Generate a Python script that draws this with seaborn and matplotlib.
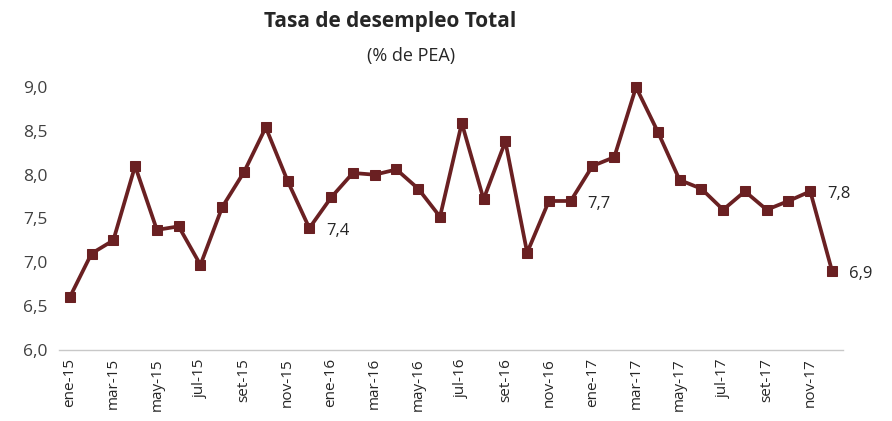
import seaborn as sns
import matplotlib.pyplot as plt
import numpy as np
import pandas as pd

# monthly unemployment rate, ene-15 .. dic-17
months = ["ene", "feb", "mar", "abr", "may", "jun",
          "jul", "ago", "set", "oct", "nov", "dic"]
years = ["15", "16", "17"]
rate_2015 = [6.6, 7.1, 7.25, 8.1, 7.37, 7.41, 6.97, 7.63, 8.03, 8.54, 7.93, 7.39]
rate_2016 = [7.74, 8.02, 8.0, 8.06, 7.84, 7.52, 8.59, 7.72, 8.38, 7.11, 7.7, 7.7]
rate_2017 = [8.1, 8.2, 9.0, 8.49, 7.94, 7.84, 7.6, 7.81, 7.6, 7.7, 7.81, 6.9]
labelled = {"dic-15": "7,4", "dic-16": "7,7", "nov-17": "7,8", "dic-17": "6,9"}

periods = [f"{m}-{y}" for y in years for m in months]
df = pd.DataFrame({"periodo": periods,
                   "tasa": rate_2015 + rate_2016 + rate_2017})
df["pos"] = np.arange(len(df))

sns.set_style("white")
plt.rcParams["font.family"] = ["Open Sans", "DejaVu Sans"]

fig = plt.figure(figsize=(8.92, 4.21), dpi=100)
ax = fig.add_axes([0.066, 0.169, 0.879, 0.624])

color = "#6a2022"
sns.lineplot(data=df, x="pos", y="tasa", ax=ax, color=color, linewidth=2.7,
             marker="s", markersize=7, markeredgecolor=color,
             markerfacecolor=color, clip_on=False)

for per, txt in labelled.items():
    row = df[df["periodo"] == per].iloc[0]
    ax.annotate(txt, (row["pos"], row["tasa"]), xytext=(12, -2),
                textcoords="offset points", ha="left", va="center",
                fontsize=12, color="#262626")

ax.set_xlim(-0.5, len(df) - 0.5)
ax.set_ylim(6, 9)
ax.set_yticks(np.arange(6, 9.01, 0.5))
ax.set_yticklabels([f"{v:.1f}".replace(".", ",") for v in np.arange(6, 9.01, 0.5)],
                   fontsize=12.5, color="#404040")
ax.set_xticks(df["pos"][::2])
ax.set_xticklabels(df["periodo"][::2], rotation=90, fontsize=11, color="#262626")
ax.set_xticks(np.arange(-0.5, len(df), 2), minor=True)
ax.tick_params(axis="x", which="major", length=0, pad=6)
ax.tick_params(axis="x", which="minor", length=5, color="#c8c8c8", width=1)
ax.tick_params(axis="y", length=0, pad=8)

for side in ["top", "right", "left"]:
    ax.spines[side].set_visible(False)
ax.spines["bottom"].set_color("#c8c8c8")
ax.spines["bottom"].set_linewidth(1)
ax.set_xlabel("")
ax.set_ylabel("")

fig.text(0.437, 0.948, "Tasa de desempleo Total", ha="center", va="center",
         fontsize=15, fontweight="bold", color="#262626")
fig.text(0.461, 0.868, "(% de PEA)", ha="center", va="center",
         fontsize=13, color="#262626")

fig.savefig("out.png", dpi=100)
